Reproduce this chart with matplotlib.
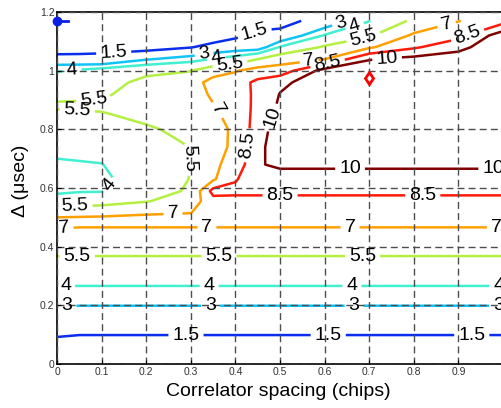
import matplotlib
matplotlib.use('Agg')
import matplotlib.pyplot as plt

plt.rcParams['font.family'] = ['Liberation Sans', 'DejaVu Sans']

# grid of the surface: correlator spacing (chips) across, delay (usec) up
spacing = [0, 0.05, 0.1, 0.2, 0.3, 0.35, 0.4, 0.45, 0.5, 0.6, 0.7, 0.8, 0.9, 1.0]
delay = [0, 0.05, 0.1, 0.2, 0.3, 0.4, 0.45, 0.48, 0.52, 0.555, 0.59, 0.63, 0.68,
         0.74, 0.8, 0.85, 0.88, 0.92, 0.96, 1.0, 1.04, 1.08, 1.12, 1.17]

# one row per delay value, one column per spacing value
error = [
    [0.1, 0, 0, 0, 0, 0, 0, 0, 0, 0, 0, 0, 0, 0],
    [0.85, 0.75, 0.75, 0.75, 0.75, 0.75, 0.75, 0.75, 0.75, 0.75, 0.75, 0.75, 0.75, 0.75],
    [1.62, 1.52, 1.52, 1.52, 1.52, 1.52, 1.52, 1.52, 1.52, 1.52, 1.52, 1.52, 1.52, 1.52],
    [3.02, 3.02, 3.02, 3.02, 3.02, 3.02, 3.02, 3.02, 3.02, 3.02, 3.02, 3.02, 3.02, 3.02],
    [4.5, 4.5, 4.5, 4.5, 4.5, 4.5, 4.5, 4.5, 4.5, 4.5, 4.5, 4.5, 4.5, 4.5],
    [5.97, 5.97, 5.97, 5.97, 5.97, 5.97, 5.97, 5.97, 5.97, 5.97, 5.97, 5.97, 5.97, 5.97],
    [6.8, 6.6, 6.6, 6.6, 6.6, 6.6, 6.6, 6.6, 6.6, 6.6, 6.6, 6.6, 6.6, 6.6],
    [7.35, 7.35, 7.35, 7.35, 7.35, 7.35, 7.35, 7.35, 7.35, 7.35, 7.35, 7.35, 7.35, 7.35],
    [6.65, 6.7, 6.74, 6.87, 6.94, 7.7, 7.7, 7.7, 7.7, 7.7, 7.7, 7.7, 7.7, 7.7],
    [4.13, 4.4, 4.67, 5.42, 6.22, 7.95, 8.1, 8.1, 8.1, 8.1, 8.1, 8.1, 8.1, 8.1],
    [3.95, 3.95, 3.94, 5.0, 5.64, 9.0, 8.8, 8.8, 8.8, 8.8, 8.8, 8.8, 8.8, 8.8],
    [3.6, 3.65, 3.7, 4.8, 5.54, 6.8, 8.4, 9.3, 9.5, 9.5, 9.5, 9.5, 9.5, 9.5],
    [3.85, 3.91, 3.97, 4.8, 5.52, 6.75, 7.5, 9.9, 10.2, 10.2, 10.2, 10.2, 10.2, 10.2],
    [4.3, 4.35, 4.4, 5.0, 5.52, 6.65, 7.2, 9.6, 10.8, 10.8, 10.8, 10.8, 10.8, 10.8],
    [4.7, 4.75, 4.8, 5.35, 5.82, 6.7, 7.15, 9.3, 10.76, 11.0, 11.1, 11.1, 11.1, 11.1],
    [5.3, 5.35, 5.4, 5.8, 6.2, 6.85, 7.3, 9.1, 10.39, 11.0, 11.2, 11.2, 11.2, 11.2],
    [5.63, 5.67, 5.7, 6.0, 6.4, 6.95, 7.4, 9.0, 10.22, 11.0, 11.2, 11.2, 11.2, 11.2],
    [5.26, 5.28, 5.3, 6.1, 6.5, 7.17, 7.6, 8.9, 10.05, 10.9, 11.1, 11.2, 11.2, 11.2],
    [4.8, 4.85, 4.9, 5.9, 6.4, 7.5, 7.8, 8.85, 9.7, 10.8, 11.0, 11.1, 11.2, 11.2],
    [3.9, 4.2, 4.57, 5.14, 5.45, 6.4, 6.89, 7.6, 7.6, 10.6, 10.8, 11.0, 11.1, 11.3],
    [2.1, 1.9, 1.71, 2.86, 3.52, 4.05, 4.57, 5.45, 6.4, 6.95, 9.91, 10.43, 10.7, 11.2],
    [0.6, 0.95, 1.27, 0.92, 1.44, 1.95, 2.29, 2.34, 4.1, 5.7, 6.8, 8.29, 9.58, 11.1],
    [0.4, 0.6, 0.8, 0.7, 0.9, 0.75, 1.24, 1.75, 1.9, 4.1, 5.31, 7.23, 8.04, 10.9],
    [0.3, 0.4, 0.5, 0.5, 0.6, 0.5, 0.8, 1.0, 1.05, 2.0, 3.95, 5.79, 6.95, 7.9],
]
levels = [1.5, 3, 4, 5.5, 7, 8.5, 10]
level_colors = ['#0a2ef0', '#10c4f8', '#40f0d0', '#b4f040', '#ffa000', '#ff1a0a', '#800000']

# the two marked points
start_x = [0, 0.024]
start_y = [1.17, 1.17]
best_x = [0.7]
best_y = [0.975]

xticks = [0, 0.1, 0.2, 0.3, 0.4, 0.5, 0.6, 0.7, 0.8, 0.9]
xtick_labels = ['0', '0.1', '0.2', '0.3', '0.4', '0.5', '0.6', '0.7', '0.8', '0.9']
yticks = [0, 0.2, 0.4, 0.6, 0.8, 1.0, 1.2]
ytick_labels = ['0', '0.2', '0.4', '0.6', '0.8', '1', '1.2']

# where the inline labels sit
label_spots = {
    1.5: [(0.289, 0.1), (0.608, 0.1), (0.93, 0.1), (0.127, 1.058), (0.443, 1.13)],
    3: [(0.022, 0.2), (0.344, 0.2), (0.666, 0.2), (0.99, 0.2), (0.33, 1.05), (0.64, 1.15)],
    4: [(0.019, 0.266), (0.341, 0.266), (0.661, 0.266), (0.99, 0.266), (0.127, 0.6),
        (0.034, 0.996), (0.357, 1.041), (0.668, 1.15)],
    5.5: [(0.045, 0.368), (0.363, 0.368), (0.685, 0.368), (0.04, 0.538), (0.045, 0.862),
          (0.082, 0.897), (0.298, 0.70), (0.388, 1.02), (0.687, 1.115)],
    7: [(0.016, 0.462), (0.336, 0.466), (0.657, 0.466), (0.985, 0.466), (0.26, 0.508),
        (0.36, 0.866), (0.565, 1.033), (0.874, 1.155)],
    8.5: [(0.5, 0.576), (0.82, 0.576), (0.43, 0.745), (0.607, 1.022), (0.923, 1.11)],
    10: [(0.657, 0.667), (0.978, 0.667), (0.483, 0.84), (0.74, 1.04)],
}

fig = plt.figure(figsize=(5.01, 4.08), dpi=100)
ax = fig.add_axes([0.114, 0.1078, 0.890, 0.8627])

# one contour set per level, so each level gets its own labels
for lev, col in zip(levels, level_colors):
    cs = ax.contour(spacing, delay, error, levels=[lev], colors=[col], linewidths=1.8)
    ax.clabel(cs, manual=label_spots[lev], inline=True, inline_spacing=4,
              fmt='%g', fontsize=14, colors='k')

ax.plot(start_x, start_y, color='#0a1ee6', lw=2, zorder=5, clip_on=False)
ax.plot(start_x[:1], start_y[:1], 'o', color='#0a1ee6', ms=6, zorder=5, clip_on=False)
ax.plot(best_x, best_y, marker='d', color='red', mfc='white', mew=2, ms=6,
        ls='none', zorder=5)

ax.set_xlim(0, 1)
ax.set_ylim(0, 1.2)
ax.set_xticks(xticks)
ax.set_xticklabels(xtick_labels)
ax.set_yticks(yticks)
ax.set_yticklabels(ytick_labels)
ax.tick_params(direction='in', length=3, width=0.8, labelsize=7.5, pad=2,
               labelcolor='#333333')
ax.set_axisbelow(False)
ax.grid(True, color='#4d4d4d', linestyle=(0, (5, 3)), linewidth=1.0)
for sp in ax.spines.values():
    sp.set_linewidth(1.2)

ax.set_xlabel('Correlator spacing (chips)', fontsize=14)
ax.xaxis.set_label_coords(0.496, -0.054)
ax.set_ylabel('Δ (μsec)', fontsize=14)
ax.yaxis.set_label_coords(-0.062, 0.52)

fig.savefig('out.png', dpi=100)
